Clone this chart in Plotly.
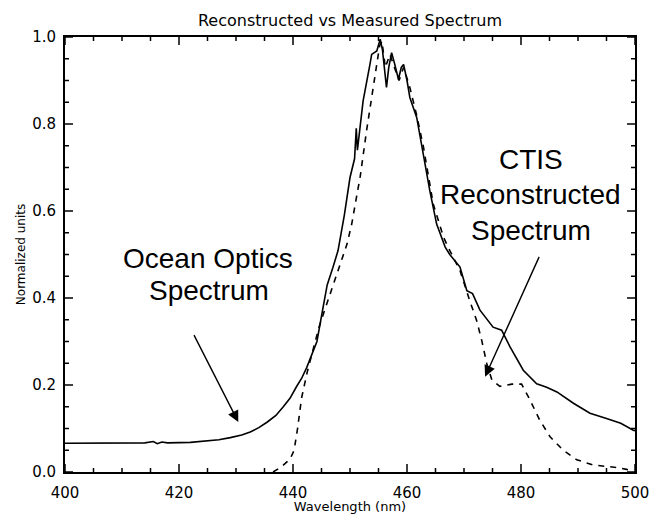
import plotly.graph_objects as go

# Ocean Optics (measured) spectrum - solid line
ocean_wl = [400, 405, 410, 414, 415.5, 416.2, 417, 418, 422, 425, 427, 429, 431, 432.5,
            434, 435.5, 437, 438.3, 439.5, 440.6, 441.5, 442.4, 443.3, 444.2, 445.3,
            446, 447, 447.9, 449, 450, 450.8, 451.1, 451.3, 451.6, 452.3, 453.5, 453.8,
            454.7, 455.3, 455.7, 456.0, 456.4, 456.8, 457.3, 457.8, 458.5, 459.0, 459.4,
            460.0, 460.5, 461.7, 462.9, 464, 465.2, 466.7, 467.5, 469.3, 470.5, 471.5,
            472.8, 475.1, 476.6, 478.1, 480.4, 482.75, 484.5, 486.3, 489.2, 492.1, 495,
            497.5, 499.7, 500]
ocean_val = [0.066, 0.066, 0.066, 0.067, 0.070, 0.065, 0.069, 0.067, 0.068, 0.071, 0.074,
             0.079, 0.085, 0.092, 0.102, 0.115, 0.13, 0.15, 0.17, 0.196, 0.215, 0.24, 0.27,
             0.30, 0.38, 0.43, 0.47, 0.509, 0.59, 0.677, 0.72, 0.79, 0.74, 0.77, 0.853,
             0.937, 0.96, 0.968, 0.995, 0.97, 0.93, 0.884, 0.93, 0.964, 0.94, 0.903, 0.93,
             0.937, 0.90, 0.861, 0.815, 0.723, 0.647, 0.570, 0.517, 0.50, 0.471, 0.417,
             0.41, 0.372, 0.333, 0.326, 0.287, 0.234, 0.203, 0.195, 0.184, 0.158, 0.135,
             0.123, 0.112, 0.096, 0.095]

# CTIS reconstructed spectrum - dashed line
ctis_wl = [436.5, 438, 439.5, 440.2, 440.8, 441.5, 442.5, 443.5, 444.5, 445.5, 446.5,
           447.5, 448.5, 449.5, 450.3, 451, 451.8, 452.9, 453.8, 454.7, 455.2, 455.6,
           456.2, 457, 457.8, 458.6, 459.4, 460.5, 461.7, 462.9, 464.6, 466.4, 467.2,
           469.3, 471, 472.2, 473.1, 474, 474.9, 476.3, 478.4, 480.1, 481.6, 483.3, 485.1,
           487.4, 489.8, 492.7, 495.6, 497, 498.5, 499.7]
ctis_val = [0.0, 0.012, 0.03, 0.05, 0.10, 0.17, 0.23, 0.28, 0.33, 0.37, 0.41, 0.45, 0.49,
            0.525, 0.57, 0.62, 0.68, 0.784, 0.861, 0.945, 0.98, 0.99, 0.93, 0.96, 0.93,
            0.90, 0.93, 0.884, 0.82, 0.746, 0.616, 0.54, 0.517, 0.463, 0.394, 0.349,
            0.303, 0.249, 0.211, 0.197, 0.202, 0.202, 0.165, 0.119, 0.081, 0.05, 0.028,
            0.016, 0.012, 0.010, 0.006, 0.003]

x_range = [400, 500]
y_range = [0.0, 1.0]
x_major = [400, 420, 440, 460, 480, 500]
x_minor = [405, 410, 415, 425, 430, 435, 445, 450, 455, 465, 470, 475, 485, 490, 495]
y_major = [0.0, 0.2, 0.4, 0.6, 0.8, 1.0]
y_minor = [0.05, 0.1, 0.15, 0.25, 0.3, 0.35, 0.45, 0.5, 0.55, 0.65, 0.7, 0.75,
           0.85, 0.9, 0.95]

W, H = 652, 514
ML, MR, MT, MB = 65, 17, 37, 42
PW, PH = W - ML - MR, H - MT - MB
MAJ_LEN, MIN_LEN = 8, 4

fig = go.Figure()
fig.add_trace(go.Scatter(x=ocean_wl, y=ocean_val, mode="lines",
                         line=dict(color="black", width=1.6), showlegend=False))
fig.add_trace(go.Scatter(x=ctis_wl, y=ctis_val, mode="lines",
                         line=dict(color="black", width=1.6, dash="6px,6px"), showlegend=False))

# inward tick marks on all four sides (drawn as shapes at the tick values)
tick_line = dict(color="black", width=1.5)
for vals, ln in ((x_major, MAJ_LEN), (x_minor, MIN_LEN)):
    f = ln / PH
    for v in vals:
        fig.add_shape(type="line", xref="x", yref="paper", x0=v, x1=v, y0=0, y1=f,
                      line=tick_line, layer="above")
        fig.add_shape(type="line", xref="x", yref="paper", x0=v, x1=v, y0=1, y1=1 - f,
                      line=tick_line, layer="above")
for vals, ln in ((y_major, MAJ_LEN), (y_minor, MIN_LEN)):
    f = ln / PW
    for v in vals:
        fig.add_shape(type="line", xref="paper", yref="y", x0=0, x1=f, y0=v, y1=v,
                      line=tick_line, layer="above")
        fig.add_shape(type="line", xref="paper", yref="y", x0=1, x1=1 - f, y0=v, y1=v,
                      line=tick_line, layer="above")

label_font = dict(family="Liberation Sans, Arial", size=28, color="black")
texts = [
    ("Ocean Optics", 425.1, 0.490),
    ("Spectrum", 425.3, 0.418),
    ("CTIS", 481.7, 0.718),
    ("Reconstructed", 481.7, 0.638),
    ("Spectrum", 481.7, 0.556),
]
for t, xx, yy in texts:
    fig.add_annotation(x=xx, y=yy, text=t, showarrow=False, font=label_font,
                       xanchor="center", yanchor="middle")

arrows = [
    (430.4, 0.115, 422.5, 0.318),
    (473.7, 0.219, 483.3, 0.498),
]
for hx, hy, tx, ty in arrows:
    fig.add_annotation(x=hx, y=hy, ax=tx, ay=ty, xref="x", yref="y", axref="x", ayref="y",
                       text="", showarrow=True, arrowhead=2, arrowsize=1.6,
                       arrowwidth=1.4, arrowcolor="black")

axis_font = dict(family="DejaVu Sans", size=15, color="black")
fig.update_layout(
    width=W, height=H,
    margin=dict(l=ML, r=MR, t=MT, b=MB, autoexpand=False),
    paper_bgcolor="white", plot_bgcolor="white",
    title=dict(text="Reconstructed vs Measured Spectrum", x=0.5, xref="paper",
               y=1 - 20 / H, yref="container", xanchor="center", yanchor="middle",
               font=dict(family="DejaVu Sans", size=16, color="black")),
    xaxis=dict(range=x_range, tickmode="array", tickvals=x_major, ticks="",
               ticklabelstandoff=6,
               showline=True, linecolor="black", linewidth=2, mirror=True,
               showgrid=False, zeroline=False, tickfont=axis_font, automargin=False,
               title=dict(text="Wavelength (nm)", standoff=8,
                          font=dict(family="DejaVu Sans", size=13, color="black"))),
    yaxis=dict(range=y_range, tickmode="array", tickvals=y_major,
               ticktext=["%.1f" % v for v in y_major], ticks="", ticklabelstandoff=4,
               showline=True, linecolor="black", linewidth=2, mirror=True,
               showgrid=False, zeroline=False, tickfont=axis_font, automargin=False,
               title=dict(text="Normalized units", standoff=4,
                          font=dict(family="DejaVu Sans", size=12, color="black"))),
)

fig.write_html("out.html")
